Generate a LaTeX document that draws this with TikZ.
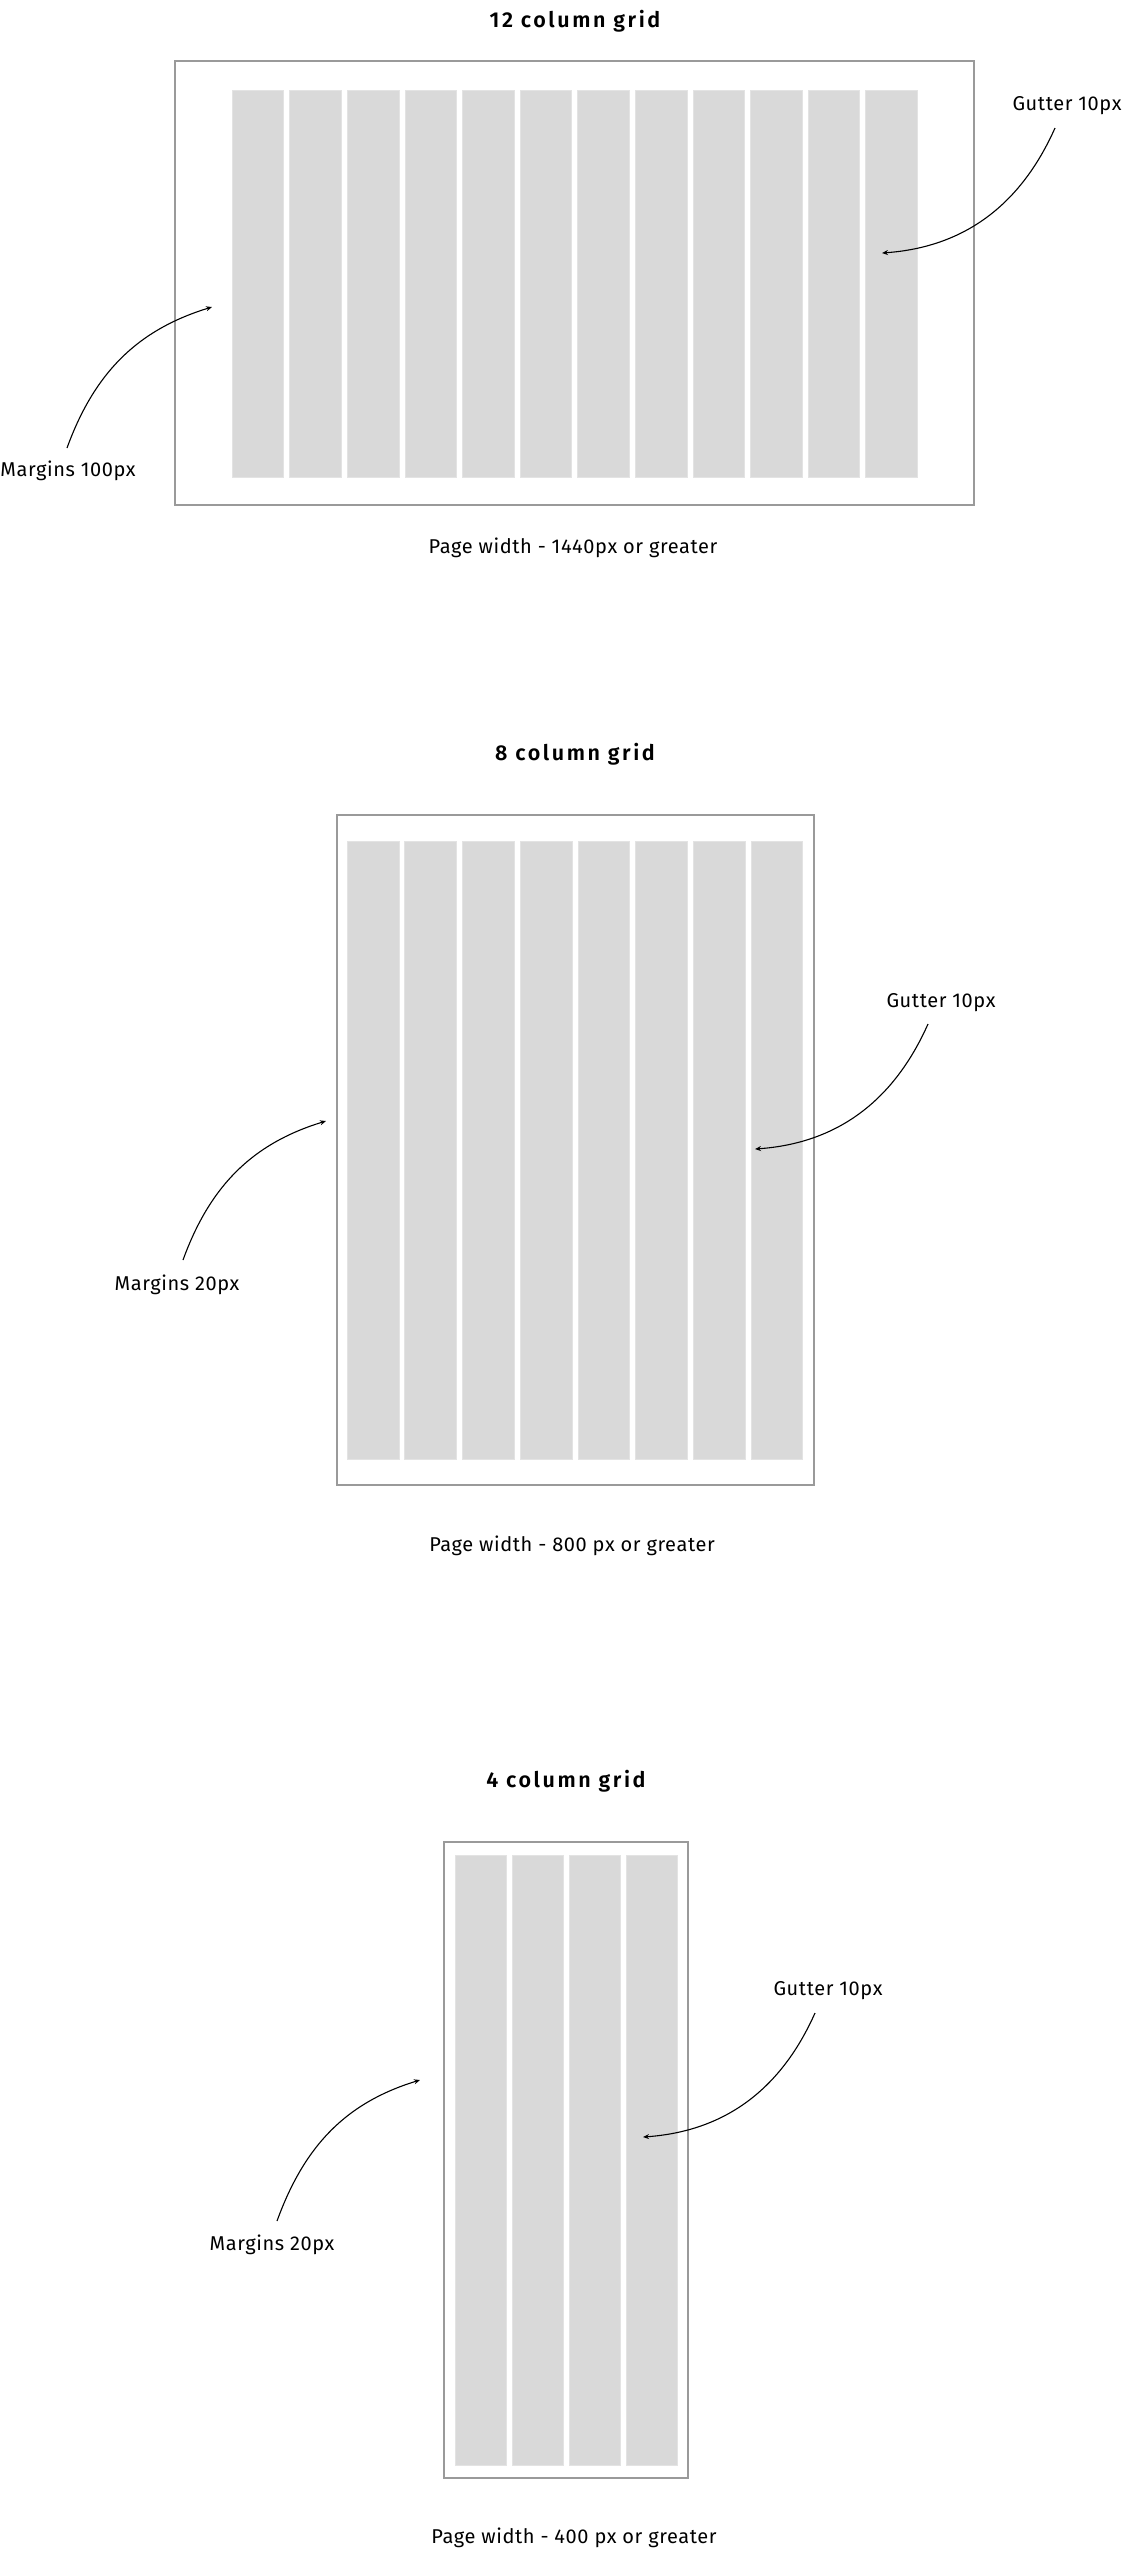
\documentclass[tikz,border=0pt]{standalone}
\usepackage{fontspec}
\setmainfont{Fira Sans}[LetterSpace=3]
\newfontfamily\titlefont{Fira Sans}[UprightFont=* SemiBold, LetterSpace=12]
\usetikzlibrary{arrows.meta}
\definecolor{colfill}{HTML}{D9D9D9}
\definecolor{coledge}{HTML}{E3E3E3}
\definecolor{pageedge}{HTML}{9A9A9A}
\tikzset{
  pagebox/.style={draw=pageedge, line width=1.4pt, fill=white},
  colbox/.style={fill=colfill, draw=coledge, line width=0.6pt},
  gridtitle/.style={anchor=base, font=\titlefont\fontsize{21.5}{24}\selectfont, inner sep=0pt},
  label/.style={anchor=base, font=\fontsize{20}{24}\selectfont, inner sep=0pt},
  pointer/.style={line width=1.1pt, -{Stealth[length=6pt,width=5pt]}},
}
\begin{document}
\begin{tikzpicture}[x=1pt,y=1pt]
\fill[white] (0,0) rectangle (1124,-2560);
\useasboundingbox (0,0) rectangle (1124,-2560);

% ---------- 12 column grid ----------
\node[gridtitle] (t12) at (575,-27) {12 column grid};
\draw[pagebox] (175,-61) rectangle (974,-505);
\foreach \i in {0,...,11} {
  \draw[colbox] ({232+\i*57.6},-90) rectangle ({232+\i*57.6+51.6},-477);
}
\node[label] (p12) at (573,-553) {Page width - 1440px or greater};
\node[label] (m12) at (68,-476) {Margins 100px};
\node[label] (g12) at (1067,-110) {Gutter 10px};
\coordinate (m12s) at (67,-448);
\coordinate (m12e) at (212,-307);
\coordinate (g12s) at (1055,-128);
\coordinate (g12e) at (882,-253);
\draw[pointer] (m12s) to[out=70,in=197] (m12e);
\draw[pointer] (g12s) to[out=246,in=4] (g12e);

% ---------- 8 column grid ----------
\node[gridtitle] (t8) at (575,-760) {8 column grid};
\draw[pagebox] (337,-815) rectangle (814,-1485);
\foreach \i in {0,...,7} {
  \draw[colbox] ({347+\i*57.7},-841) rectangle ({347+\i*57.7+51.8},-1459);
}
\node[label] (p8) at (572,-1551) {Page width - 800 px or greater};
\node[label] (m8) at (177,-1290) {Margins 20px};
\node[label] (g8) at (941,-1007) {Gutter 10px};
\coordinate (m8s) at (183,-1260);
\coordinate (m8e) at (326,-1121);
\coordinate (g8s) at (928,-1024);
\coordinate (g8e) at (755,-1149);
\draw[pointer] (m8s) to[out=70,in=197] (m8e);
\draw[pointer] (g8s) to[out=246,in=4] (g8e);

% ---------- 4 column grid ----------
\node[gridtitle] (t4) at (566,-1787) {4 column grid};
\draw[pagebox] (444,-1842) rectangle (688,-2478);
\foreach \i in {0,...,3} {
  \draw[colbox] ({455+\i*57},-1855) rectangle ({455+\i*57+51},-2465);
}
\node[label] (p4) at (574,-2543) {Page width - 400 px or greater};
\node[label] (m4) at (272,-2250) {Margins 20px};
\node[label] (g4) at (828,-1995) {Gutter 10px};
\coordinate (m4s) at (277,-2221);
\coordinate (m4e) at (420,-2080);
\coordinate (g4s) at (815,-2013);
\coordinate (g4e) at (643,-2137);
\draw[pointer] (m4s) to[out=70,in=197] (m4e);
\draw[pointer] (g4s) to[out=246,in=4] (g4e);
\end{tikzpicture}
\end{document}
